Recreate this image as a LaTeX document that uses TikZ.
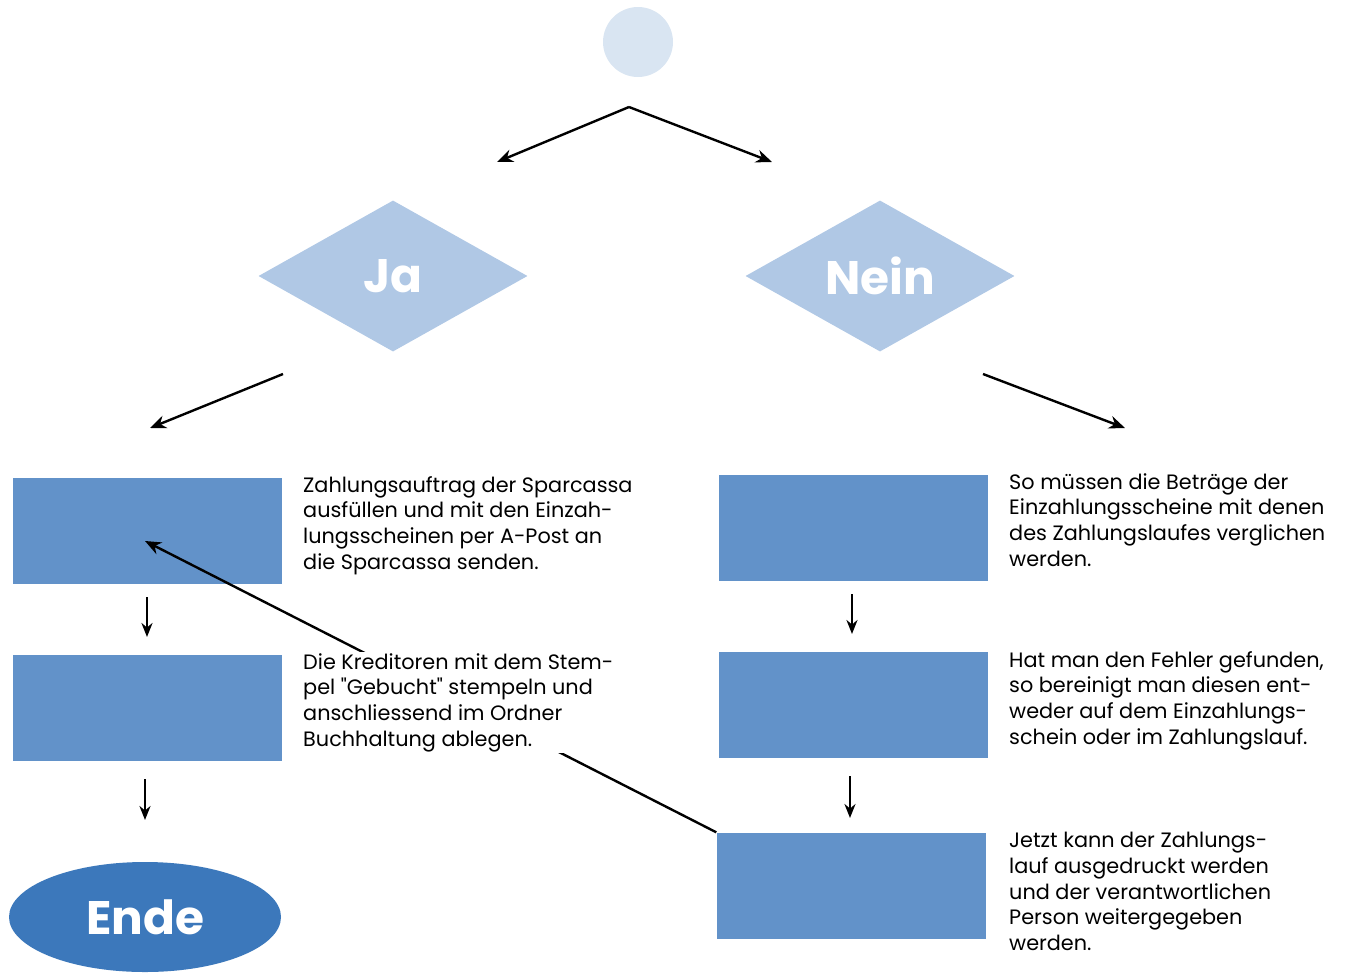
\documentclass[tikz,border=0pt]{standalone}
\usepackage{fontspec}
\setmainfont{Poppins}
\usetikzlibrary{shapes.geometric,arrows.meta}
\definecolor{startc}{HTML}{D9E5F2}
\definecolor{decc}{HTML}{B0C8E5}
\definecolor{boxc}{HTML}{6292C9}
\definecolor{endc}{HTML}{3C78BB}
\tikzset{
  stepbox/.style={rectangle, fill=boxc, minimum width=269pt, minimum height=106pt, inner sep=0pt},
  decbox/.style={diamond, fill=decc, aspect=1.78, minimum width=269pt, minimum height=151pt, inner sep=0pt,
    text=white, font=\fontsize{47}{47}\selectfont\bfseries},
  desc/.style={anchor=north west, align=left, inner xsep=2pt, inner ysep=1pt,
    font=\fontsize{20.8}{25.7}\selectfont},
  arr/.style={line width=2.4pt, -{Stealth[length=16pt,width=13pt]}},
  darr/.style={line width=2.4pt, -{Stealth[length=14pt,width=11pt]}},
}
\begin{document}
\begin{tikzpicture}[x=1pt,y=-1pt]
\useasboundingbox (0,0) rectangle (1354,972);
% start
\node[circle, fill=startc, minimum size=70pt, inner sep=0pt] (start) at (638,42) {};
\coordinate (split) at (629,107);
\coordinate (jaIn) at (497,162);
\coordinate (neinIn) at (772,162);
\draw[arr] (split) -- (jaIn);
\draw[arr] (split) -- (neinIn);
% decisions
\node[decbox] (ja) at (393,276) {Ja};
\node[decbox] (nein) at (880,276) {Nein};
\coordinate (jaOut) at (283,374);
\coordinate (jaEnd) at (150,428);
\coordinate (neinOut) at (983,374);
\coordinate (neinEnd) at (1125,428);
\draw[arr] (jaOut) -- (jaEnd);
\draw[arr] (neinOut) -- (neinEnd);
% left column
\node[stepbox] (l1) at (147.5,530.5) {};
\node[stepbox] (l2) at (147.5,707.5) {};
\node[ellipse, fill=endc, minimum width=272pt, minimum height=110pt, inner sep=0pt,
  text=white, font=\fontsize{47}{47}\selectfont\bfseries] (ende) at (145,917) {Ende};
\coordinate (a1s) at (147,597); \coordinate (a1e) at (147,637);
\coordinate (a2s) at (145,779); \coordinate (a2e) at (145,820);
\draw[darr] (a1s) -- (a1e);
\draw[darr] (a2s) -- (a2e);
% right column
\node[stepbox] (r1) at (853.5,528) {};
\node[stepbox] (r2) at (853.5,704.5) {};
\node[stepbox] (r3) at (851,885.5) {};
\coordinate (b1s) at (852,594); \coordinate (b1e) at (852,634);
\coordinate (b2s) at (850,776); \coordinate (b2e) at (850,818);
\draw[darr] (b1s) -- (b1e);
\draw[darr] (b2s) -- (b2e);
% long connector
\coordinate (l1tgt) at (145,541);
\draw[arr] (r3.north west) -- (l1tgt);
% texts
\node[desc] (t1) at (301,475) {Zahlungsauftrag der Sparcassa\\ausfüllen und mit den Einzah-\\lungsscheinen per A-Post an\\die Sparcassa senden.};
\node[desc, fill=white] (t2) at (301,652) {Die Kreditoren mit dem Stem-\\pel \textquotedbl Gebucht\textquotedbl{} stempeln und\\anschliessend im Ordner\\Buchhaltung ablegen.};
\node[desc] (t3) at (1007,472) {So müssen die Beträge der\\Einzahlungsscheine mit denen\\des Zahlungslaufes verglichen\\werden.};
\node[desc] (t4) at (1007,650) {Hat man den Fehler gefunden,\\so bereinigt man diesen ent-\\weder auf dem Einzahlungs-\\schein oder im Zahlungslauf.};
\node[desc] (t5) at (1007,831) {Jetzt kann der Zahlungs-\\lauf ausgedruckt werden\\und der verantwortlichen\\Person weitergegeben\\werden.};
\end{tikzpicture}
\end{document}
